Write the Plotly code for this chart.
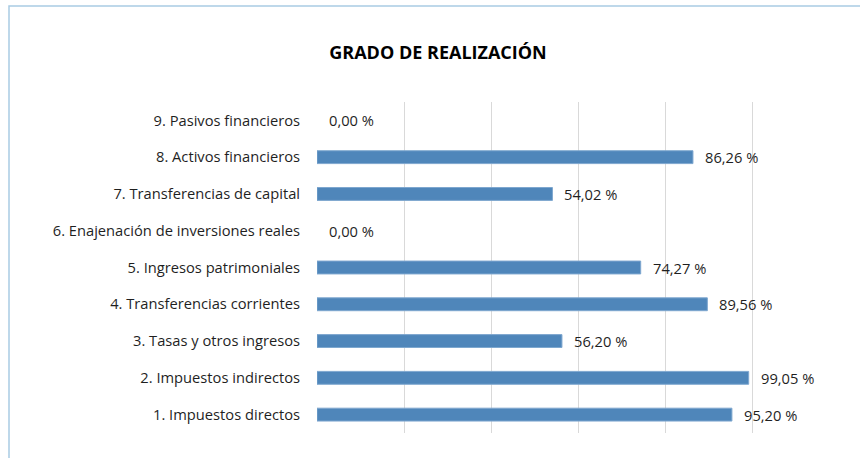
import plotly.graph_objects as go

categories = [
    "1. Impuestos directos",
    "2. Impuestos indirectos",
    "3. Tasas y otros ingresos",
    "4. Transferencias corrientes",
    "5. Ingresos patrimoniales",
    "6. Enajenación de inversiones reales",
    "7. Transferencias de capital",
    "8. Activos financieros",
    "9. Pasivos financieros",
]
values = [95.20, 99.05, 56.20, 89.56, 74.27, 0.00, 54.02, 86.26, 0.00]
labels = [f"{v:.2f}".replace(".", ",") + " %" for v in values]

W, H = 860, 458
ML, MR, MT, MB = 317, 20, 102, 25
FONT = "Open Sans"

fig = go.Figure(
    go.Bar(
        x=values,
        y=categories,
        orientation="h",
        width=0.35,
        marker=dict(
            color="#4f86ba",
            line=dict(color="#7ea7cf", width=[1 if v > 0 else 0 for v in values]),
        ),
        hoverinfo="skip",
    )
)

# value labels just right of each bar end
for v, c, t in zip(values, categories, labels):
    fig.add_annotation(
        x=v, y=c, text=t, showarrow=False, xanchor="left", xshift=10,
        font=dict(family=FONT, size=14.7, color="#1f1f1f"),
    )

# outer chart frame (top and left edges visible)
pw, ph = W - ML - MR, H - MT - MB
fig.add_shape(
    type="rect", xref="paper", yref="paper",
    x0=(9 - ML) / pw, x1=(W + 20 - ML) / pw,
    y0=-(H + 20 - MT - ph) / ph, y1=(H - 6 - MB) / ph,
    line=dict(color="#a9cbe3", width=1.5), layer="below",
)

fig.update_layout(
    width=W, height=H,
    margin=dict(l=ML, r=MR, t=MT, b=MB),
    paper_bgcolor="white", plot_bgcolor="white",
    showlegend=False,
    title=dict(
        text="<b>GRADO DE REALIZACIÓN</b>",
        x=438 / W, xanchor="center", y=1 - 53 / H, yanchor="middle",
        font=dict(family=FONT, size=18, color="#000000"),
    ),
    xaxis=dict(
        range=[0, 120], dtick=20, showticklabels=False,
        showgrid=True, gridcolor="#d9d9d9", gridwidth=1,
        zeroline=False, showline=False, fixedrange=True,
    ),
    yaxis=dict(
        categoryorder="array", categoryarray=categories,
        showgrid=False, zeroline=False, showline=False,
        ticks="", ticklabelstandoff=16,
        tickfont=dict(family=FONT, size=14.7, color="#1f1f1f"),
    ),
)

fig.write_html("out.html")
